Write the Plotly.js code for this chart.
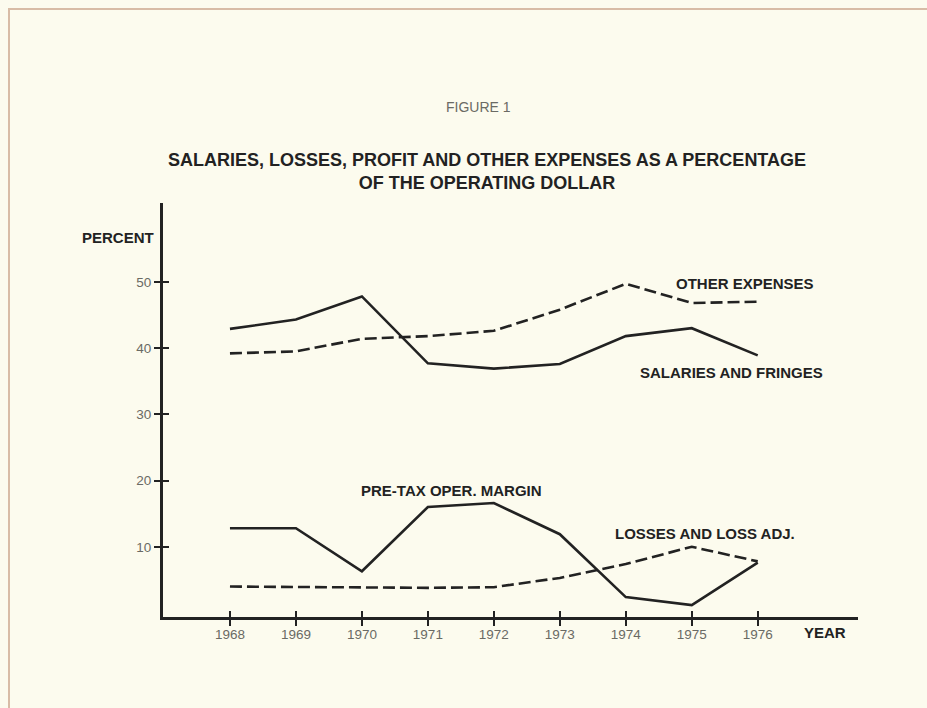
<!DOCTYPE html>
<html>
<head>
<meta charset="utf-8">
<script src="https://cdn.plot.ly/plotly-3.0.1.min.js"></script>
<style>
  html, body { margin: 0; padding: 0; background: #fcfbee; }
  #wrap { position: relative; width: 927px; height: 708px; overflow: hidden; }
  #frame { position: absolute; left: 8px; top: 8px; width: 940px; height: 720px;
           border-top: 2px solid #d8bca6; border-left: 2px solid #d8bca6; pointer-events: none; z-index: 5; }
  #chart { position: absolute; left: 0; top: 0; width: 927px; height: 708px; }
</style>
</head>
<body>
<div id="wrap">
  <div id="chart"></div>
  <div id="frame"></div>
</div>
<script>
// ---- data ----
const years = [1968, 1969, 1970, 1971, 1972, 1973, 1974, 1975, 1976];
const salariesFringes = [42.9, 44.3, 47.8, 37.7, 36.9, 37.6, 41.8, 43.0, 38.9];
const otherExpenses   = [39.2, 39.5, 41.4, 41.8, 42.6, 45.8, 49.7, 46.8, 47.0];
const preTaxMargin    = [12.8, 12.8, 6.3, 16.0, 16.6, 11.9, 2.4, 1.2, 7.6];
const lossesLossAdj   = [4.0, 3.9, 3.8, 3.8, 3.9, 5.3, 7.4, 10.0, 7.8];
const yTickVals = [10, 20, 30, 40, 50];
const yTickText = ["10", "20", "30", "40", "50"];
const xTickText = years.map(String);

const FONT = "Liberation Sans, Arial, Helvetica, sans-serif";
const INK = "#222222";
const GREY = "#6a6a64";
const XR = [1966.985, 1977.52];
const YR = [-0.6, 61.9];

const solid = {color: INK, width: 2.6, dash: "solid"};
const dashed = {color: INK, width: 2.6, dash: "12px,5px"};

const traces = [
  {x: years, y: salariesFringes, mode: "lines", line: solid, name: "SALARIES AND FRINGES", hoverinfo: "x+y"},
  {x: years, y: otherExpenses, mode: "lines", line: dashed, name: "OTHER EXPENSES", hoverinfo: "x+y"},
  {x: years, y: preTaxMargin, mode: "lines", line: solid, name: "PRE-TAX OPER. MARGIN", hoverinfo: "x+y"},
  {x: years, y: lossesLossAdj, mode: "lines", line: dashed, name: "LOSSES AND LOSS ADJ.", hoverinfo: "x+y"}
];

// paper-coordinate helper from pixel position in the 927x708 page (plot area 163..858 x 203..617)
const px = (x) => (x - 163) / 695;
const py = (y) => (617 - y) / 414;

const lbl = (text, x, y, opts) => Object.assign({
  text, x: px(x), y: py(y), xref: "paper", yref: "paper", showarrow: false,
  font: {family: FONT, size: 15, color: INK, weight: "bold"},
  xanchor: "center", yanchor: "middle"
}, opts || {});

const layout = {
  width: 927, height: 708,
  paper_bgcolor: "rgba(0,0,0,0)",
  plot_bgcolor: "rgba(0,0,0,0)",
  margin: {l: 163, r: 69, t: 203, b: 91},
  showlegend: false,
  title: {
    text: "SALARIES, LOSSES, PROFIT AND OTHER EXPENSES AS A PERCENTAGE<br>OF THE OPERATING DOLLAR",
    font: {family: FONT, size: 18, color: INK, weight: "bold"},
    x: 487 / 927, xanchor: "center",
    y: 1 - 166 / 708, yanchor: "middle", yref: "container"
  },
  xaxis: {
    range: XR, showgrid: false, zeroline: false,
    showline: true, linecolor: INK, linewidth: 3,
    tickmode: "array", tickvals: years, ticktext: xTickText,
    ticks: "outside", ticklen: 6, tickwidth: 2, tickcolor: INK,
    ticklabelstandoff: -3,
    tickfont: {family: FONT, size: 13.5, color: GREY}
  },
  yaxis: {
    range: YR, showgrid: false, zeroline: false,
    showline: true, linecolor: INK, linewidth: 3,
    tickmode: "array", tickvals: yTickVals, ticktext: yTickText,
    ticks: "outside", ticklen: 6, tickwidth: 2, tickcolor: INK,
    tickfont: {family: FONT, size: 13.5, color: GREY}
  },
  xaxis2: {
    range: XR, overlaying: "x", anchor: "y", side: "bottom",
    showgrid: false, zeroline: false, showline: false,
    tickmode: "array", tickvals: years, showticklabels: false,
    ticks: "inside", ticklen: 6, tickwidth: 2, tickcolor: INK
  },
  yaxis2: {
    range: YR, overlaying: "y", anchor: "x", side: "left",
    showgrid: false, zeroline: false, showline: false,
    tickmode: "array", tickvals: yTickVals, showticklabels: false,
    ticks: "inside", ticklen: 6, tickwidth: 2, tickcolor: INK
  },
  annotations: [
    {text: "FIGURE 1", xref: "paper", yref: "paper", x: px(478), y: py(107),
     showarrow: false, xanchor: "center", yanchor: "middle",
     font: {family: FONT, size: 14, color: GREY}},
    lbl("OTHER EXPENSES", 745, 283),
    lbl("SALARIES AND FRINGES", 731, 372),
    lbl("PRE-TAX OPER. MARGIN", 451, 490),
    lbl("LOSSES AND LOSS ADJ.", 705, 533),
    lbl("PERCENT", 156, 237, {xanchor: "right"}),
    lbl("YEAR", 825, 632)
  ]
};

// empty trace so the overlay tick axes are drawn
traces.push({x: [], y: [], xaxis: "x2", yaxis: "y2", mode: "lines", hoverinfo: "skip", showlegend: false});

Plotly.newPlot("chart", traces, layout, {displayModeBar: false});
</script>
</body>
</html>
